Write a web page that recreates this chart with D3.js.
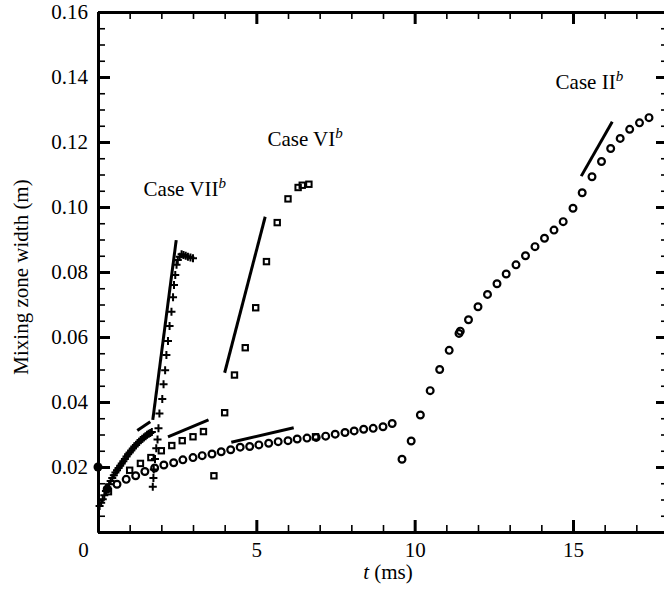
<!DOCTYPE html>
<html>
<head>
<meta charset="utf-8">
<script src="https://cdn.jsdelivr.net/npm/d3@7"></script>
<style>
  body { margin: 0; background: #fff; }
  svg { display: block; font-family: "Liberation Serif", "Times New Roman", serif; }
</style>
</head>
<body>
<svg id="chart" width="664" height="596"></svg>
<script>
// Case II (circles)
const caseIIt = [0.29, 0.6, 0.89, 1.19, 1.48, 1.79, 2.08, 2.39, 2.68, 3.0, 3.29, 3.6, 3.89, 4.19, 4.49,
  4.79, 5.08, 5.39, 5.69, 6.0, 6.29, 6.6, 6.89, 7.19, 7.49, 7.8, 8.09, 8.39, 8.69, 9.0, 9.29,
  9.6, 9.89, 10.18, 10.49, 10.79, 11.09, 11.4, 11.44, 11.7, 12.0, 12.3, 12.6, 12.89, 13.2, 13.5,
  13.8, 14.1, 14.4, 14.69, 15.0, 15.29, 15.6, 15.9, 16.19, 16.49, 16.79, 17.1, 17.4];
const caseIIw = [0.0132, 0.0147, 0.0162, 0.0173, 0.0186, 0.0197, 0.0206, 0.0213, 0.0222, 0.0229, 0.0235, 0.024, 0.0247, 0.0253, 0.0261,
  0.0263, 0.0268, 0.0273, 0.0278, 0.0281, 0.0286, 0.0289, 0.0291, 0.0295, 0.0301, 0.0306, 0.0311, 0.0316, 0.0319, 0.0324, 0.0334,
  0.0224, 0.028, 0.036, 0.0435, 0.05, 0.0559, 0.0611, 0.0618, 0.0653, 0.0693, 0.0731, 0.0764, 0.0794, 0.0822, 0.085,
  0.0878, 0.0904, 0.0929, 0.0955, 0.0996, 0.1044, 0.1093, 0.114, 0.118, 0.1211, 0.1239, 0.1259, 0.1275];

// Case VI (squares)
const caseVIt = [0.33, 1.0, 1.34, 1.67, 2.0, 2.33, 2.66, 3.0, 3.33, 3.66, 4.0, 4.31, 4.65, 4.98, 5.32, 5.66, 6.0, 6.32, 6.45, 6.66, 6.87];
const caseVIw = [0.0124, 0.019, 0.0211, 0.0229, 0.025, 0.0266, 0.0281, 0.0293, 0.0309, 0.0173, 0.0367, 0.0483, 0.0567, 0.069, 0.0832, 0.0952, 0.1025, 0.106, 0.1067, 0.107, 0.0293];

// Case VII (crosses)
const caseVIIt = [0.05, 0.1, 0.15, 0.2, 0.25, 0.3, 0.35, 0.4, 0.45, 0.5, 0.55, 0.6, 0.65, 0.7, 0.75, 0.8, 0.85,
  0.9, 0.95, 1.0, 1.05, 1.1, 1.15, 1.2, 1.25, 1.3, 1.35, 1.4, 1.45, 1.5, 1.55, 1.6, 1.65, 1.7,
  1.73, 1.75, 1.76, 1.8, 1.84, 1.88, 1.91, 1.94, 2.03, 2.07, 2.12, 2.16, 2.21, 2.26, 2.32, 2.37,
  2.4, 2.44, 2.48, 2.52, 2.58, 2.64, 2.7, 2.77, 2.84, 2.92, 3.0];
const caseVIIw = [0.008, 0.009, 0.0101, 0.0113, 0.0126, 0.0137, 0.0147, 0.0157, 0.0166, 0.0175, 0.0183, 0.019, 0.0197, 0.0204, 0.0211, 0.0218, 0.0225,
  0.0232, 0.0239, 0.0245, 0.0251, 0.0257, 0.0263, 0.0268, 0.0273, 0.0278, 0.0283, 0.0287, 0.0291, 0.0295, 0.0299, 0.0302, 0.0305, 0.0308,
  0.0139, 0.0166, 0.0192, 0.0225, 0.0258, 0.0285, 0.0319, 0.0365, 0.0409, 0.0455, 0.0498, 0.0545, 0.0588, 0.0634, 0.0678, 0.0722,
  0.076, 0.0791, 0.0822, 0.0837, 0.0847, 0.0855, 0.0852, 0.085, 0.0847, 0.0845, 0.0842];

// initial width (filled dot)
const startT = [0];
const startW = [0.02];

// fitted slope lines: [t0, w0, t1, w1]
const slopeLines = [
  [15.26, 0.1095, 16.24, 0.1262],
  [4.21, 0.0276, 6.18, 0.0321],
  [4.0, 0.049, 5.28, 0.097],
  [2.21, 0.0293, 3.49, 0.0345],
  [1.73, 0.0345, 2.47, 0.0898],
  [1.24, 0.0312, 1.65, 0.0339]
];

const caseLabels = ["Case VII", "Case VI", "Case II"];
const caseLabelPos = [[1.44, 0.1034], [5.35, 0.1188], [14.45, 0.1363]];

const xMajor = [0, 5, 10, 15];
const xMinor = d3.range(1, 18);
const yMajor = [0, 0.02, 0.04, 0.06, 0.08, 0.1, 0.12, 0.14, 0.16];
const yMinor = d3.range(0.005, 0.16, 0.005);

const box = { left: 98, right: 668, top: 12, bottom: 532 };
const svg = d3.select("#chart");
const x = d3.scaleLinear().domain([0, 18]).range([box.left, box.right]);
const y = d3.scaleLinear().domain([0, 0.16]).range([box.bottom, box.top]);

function styleAxis(g, width) {
  g.select(".domain").attr("stroke-width", 3);
  g.selectAll(".tick line").attr("stroke-width", width);
  g.selectAll("text").attr("font-size", 21).attr("fill", "#000")
    .attr("font-family", '"Liberation Serif", serif');
}

// minor ticks on all four sides
svg.append("g").attr("transform", `translate(0,${box.bottom})`)
  .call(d3.axisBottom(x).tickValues(xMinor).tickSize(-7).tickSizeOuter(0).tickFormat(""))
  .call(g => styleAxis(g, 1.6));
svg.append("g").attr("transform", `translate(0,${box.top})`)
  .call(d3.axisTop(x).tickValues(xMinor).tickSize(-7).tickSizeOuter(0).tickFormat(""))
  .call(g => styleAxis(g, 1.6));
svg.append("g").attr("transform", `translate(${box.left},0)`)
  .call(d3.axisLeft(y).tickValues(yMinor).tickSize(-7).tickSizeOuter(0).tickFormat(""))
  .call(g => styleAxis(g, 1.6));
svg.append("g").attr("transform", `translate(${box.right},0)`)
  .call(d3.axisRight(y).tickValues(yMinor).tickSize(-7).tickSizeOuter(0).tickFormat(""))
  .call(g => styleAxis(g, 1.6));

// major ticks with labels
const xAxis = svg.append("g").attr("transform", `translate(0,${box.bottom})`)
  .call(d3.axisBottom(x).tickValues(xMajor).tickSize(-12).tickSizeOuter(0).tickPadding(10)
    .tickFormat(d3.format("d")))
  .call(g => styleAxis(g, 3));
xAxis.selectAll(".tick text").filter(d => d === 0).attr("dx", -15);

svg.append("g").attr("transform", `translate(0,${box.top})`)
  .call(d3.axisTop(x).tickValues(xMajor).tickSize(-12).tickSizeOuter(0).tickFormat(""))
  .call(g => styleAxis(g, 3));
svg.append("g").attr("transform", `translate(${box.left},0)`)
  .call(d3.axisLeft(y).tickValues(yMajor).tickSize(-12).tickSizeOuter(0).tickPadding(10)
    .tickFormat(d => d === 0 ? "" : d3.format(".2f")(d)))
  .call(g => styleAxis(g, 3));
svg.append("g").attr("transform", `translate(${box.right},0)`)
  .call(d3.axisRight(y).tickValues(yMajor).tickSize(-12).tickSizeOuter(0).tickFormat(""))
  .call(g => styleAxis(g, 3));

// axis titles
svg.append("text")
  .attr("transform", "translate(28,277) rotate(-90)")
  .attr("text-anchor", "middle").attr("font-size", 21)
  .text("Mixing zone width (m)");

const xt = svg.append("text").attr("x", 388).attr("y", 579)
  .attr("text-anchor", "middle").attr("font-size", 21);
xt.append("tspan").attr("font-style", "italic").text("t");
xt.append("tspan").text(" (ms)");

// slope lines
svg.append("g").selectAll("line").data(slopeLines).join("line")
  .attr("x1", d => x(d[0])).attr("y1", d => y(d[1]))
  .attr("x2", d => x(d[2])).attr("y2", d => y(d[3]))
  .attr("stroke", "#000").attr("stroke-width", 3);

// markers
const circleData = caseIIt.map((t, i) => [t, caseIIw[i]]);
const squareData = caseVIt.map((t, i) => [t, caseVIw[i]]);
const crossData = caseVIIt.map((t, i) => [t, caseVIIw[i]]);

svg.append("g").selectAll("circle").data(circleData).join("circle")
  .attr("cx", d => x(d[0])).attr("cy", d => y(d[1])).attr("r", 3.4)
  .attr("fill", "none").attr("stroke", "#000").attr("stroke-width", 2.2);

svg.append("g").selectAll("rect").data(squareData).join("rect")
  .attr("x", d => x(d[0]) - 2.7).attr("y", d => y(d[1]) - 2.7)
  .attr("width", 5.4).attr("height", 5.4)
  .attr("fill", "none").attr("stroke", "#000").attr("stroke-width", 2);

svg.append("g").selectAll("path").data(crossData).join("path")
  .attr("transform", d => `translate(${x(d[0])},${y(d[1])})`)
  .attr("d", "M-4,0H4M0,-4V4")
  .attr("stroke", "#000").attr("stroke-width", 2).attr("fill", "none");

svg.append("g").selectAll("circle").data(startT.map((t, i) => [t, startW[i]])).join("circle")
  .attr("cx", d => x(d[0])).attr("cy", d => y(d[1])).attr("r", 4.5)
  .attr("fill", "#000");

// case labels
caseLabels.forEach((lab, i) => {
  const [t, w] = caseLabelPos[i];
  const txt = svg.append("text").attr("x", x(t)).attr("y", y(w)).attr("font-size", 21);
  txt.append("tspan").text(lab);
  txt.append("tspan").attr("font-style", "italic").attr("font-size", 15)
    .attr("dy", -8).text("b");
});
</script>
</body>
</html>
